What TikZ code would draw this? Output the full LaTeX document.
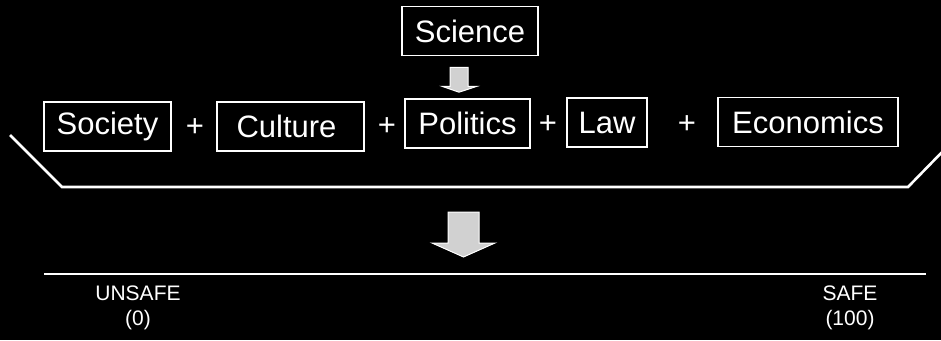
\documentclass[tikz,border=0pt]{standalone}
\usepackage{fontspec}
\setmainfont{Liberation Sans}
\usetikzlibrary{calc}
\begin{document}
\begin{tikzpicture}[x=1pt,y=-1pt,
  every node/.style={text=white, font=\fontsize{31}{34}\selectfont},
  termbox/.style={draw=white, line width=1.6pt, minimum height=49pt, inner xsep=0pt, inner ysep=0pt, anchor=center},
  plus/.style={inner sep=0pt},
  scalelabel/.style={font=\fontsize{21}{25}\selectfont, align=center, inner sep=0pt},
  blockarrow/.style={draw=white, fill=white!82!black, line width=1pt},
  whiteline/.style={draw=white, line width=2.6pt}
]
\fill[black] (0,0) rectangle (941,340);
\useasboundingbox (0,0) rectangle (941,340);

\node[termbox, minimum width=136pt] (sci) at (470,31) {Science};
\node[termbox, minimum width=127pt] (soc) at (107.5,126.5) {Society};
\node[termbox, minimum width=147pt, text width=134pt, align=left] (cul) at (290.5,126.5) {\hspace*{13pt}Culture};
\node[termbox, minimum width=125pt] (pol) at (467.5,123.5) {Politics};
\node[termbox, minimum width=80pt] (law) at (607,122.5) {Law};
\node[termbox, minimum width=180pt] (eco) at (808,122) {Economics};

\node[plus] (p1) at (195,128) {+};
\node[plus] (p2) at (387,127) {+};
\node[plus] (p3) at (548,125) {+};
\node[plus] (p4) at (687,125) {+};

% small arrow from Science to Politics
\coordinate (sa) at ($(sci.south)+(-11,11)$);
\coordinate (stip) at ($(pol.north)+(-8.5,-6)$);
\path[blockarrow] ($(sa)+(-9,0)$) -- ($(sa)+(9,0)$) -- ($(sa)+(9,19)$) -- ($(sa)+(18,19)$)
   -- (stip) -- ($(sa)+(-17,19)$) -- ($(sa)+(-9,19)$) -- cycle;

% bracket
\coordinate (bl0) at (10,135);
\coordinate (bl1) at (62,187);
\coordinate (br1) at (908,187);
\coordinate (br0) at (946,148);
\draw[whiteline] (bl0) -- (bl1) -- (br1) -- (br0);

% big arrow
\coordinate (ba) at (463.5,212);
\coordinate (btip) at (463.5,257);
\path[blockarrow] ($(ba)+(-15.5,0)$) -- ($(ba)+(15.5,0)$) -- ($(ba)+(15.5,31)$) -- ($(ba)+(31.5,31)$)
   -- (btip) -- ($(ba)+(-31.5,31)$) -- ($(ba)+(-15.5,31)$) -- cycle;

% scale line
\coordinate (s0) at (44,274);
\coordinate (s1) at (926,274);
\draw[whiteline] (s0) -- (s1);

\node[scalelabel] (unsafe) at (138,308) {UNSAFE\\(0)};
\node[scalelabel] (safe) at (850,308) {SAFE\\(100)};
\end{tikzpicture}
\end{document}
